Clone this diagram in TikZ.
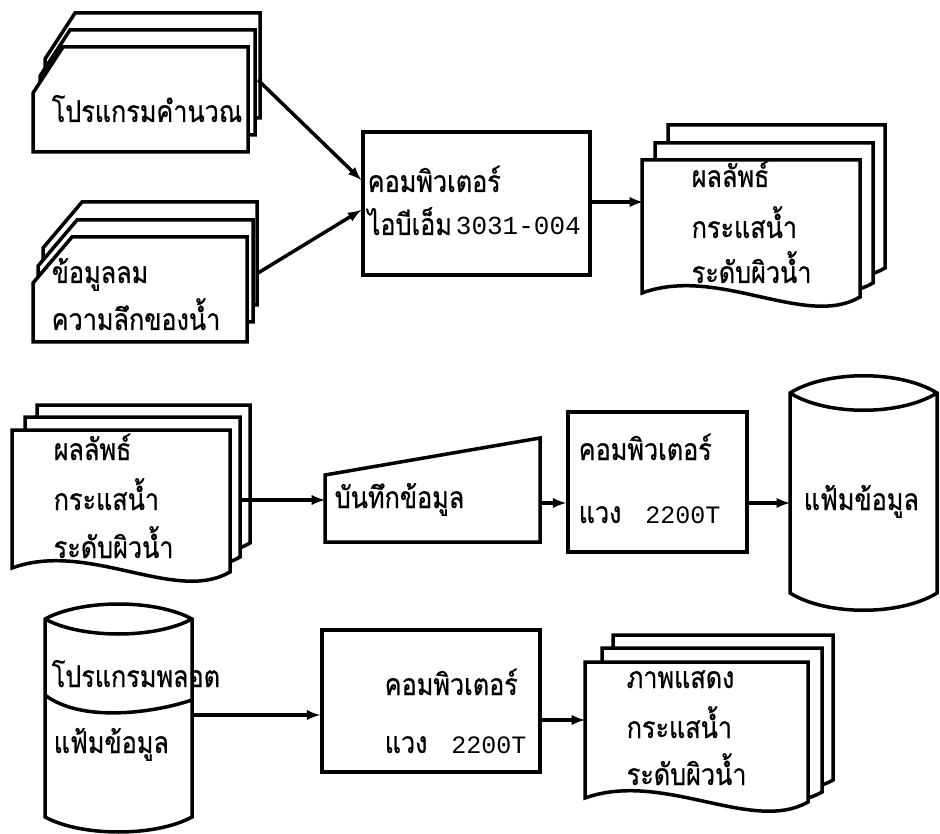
\documentclass[tikz,border=0pt]{standalone}
\usepackage{fontspec}
\newfontfamily\thaifont[Script=Thai,FakeStretch=0.84,FakeBold=0.6]{Loma}
\newfontfamily\numfont{Liberation Mono}

% punched card: x, y (top), width, height, cut
\newcommand{\cardpage}[5]{%
  \filldraw[fill=white] (#1+#5,#2) -- (#1+#3,#2) -- (#1+#3,#2+#4) -- (#1,#2+#4) -- (#1,#2+46) -- cycle;}
% printed page: x, y (top), width, height
\newcommand{\docpage}[4]{%
  \filldraw[fill=white] (#1,#2) -- (#1+#3,#2) -- (#1+#3,#2+#4+4)
    .. controls (#1+0.75*#3,#2+#4+36) and (#1+0.35*#3,#2+#4-28) .. (#1,#2+#4) -- cycle;}
% disk file: x, y (top corner), width, height, bulge
\newcommand{\drumshape}[5]{%
  \filldraw[fill=white] (#1,#2) .. controls (#1+0.25*#3,#2-#5) and (#1+0.75*#3,#2-#5) .. (#1+#3,#2)
    -- (#1+#3,#2+#4) .. controls (#1+0.75*#3,#2+#4+#5) and (#1+0.25*#3,#2+#4+#5) .. (#1,#2+#4) -- cycle;
  \draw (#1,#2) .. controls (#1+0.25*#3,#2+#5) and (#1+0.75*#3,#2+#5) .. (#1+#3,#2);}

\begin{document}
\begin{tikzpicture}[x=1pt,y=-1pt,>=latex,line width=3.5pt,
    cpubox/.style={draw,rectangle,inner sep=0pt},
    txt/.style={anchor=base west,inner sep=0pt,font=\thaifont\fontsize{30}{32}\selectfont}]

    \useasboundingbox (0,0) rectangle (940,834);

    % Cards of the program and of the data
    \cardpage{45}{13}{215}{105}{30}
    \cardpage{40}{30}{215}{105}{30}
    \cardpage{33}{47}{215}{105}{30}
    \node[txt] (calc) at (50,122) {โปรแกรมคำนวณ};
    \cardpage{43}{202}{214}{103}{39}
    \cardpage{38}{220}{215}{102}{39}
    \cardpage{33}{237}{214}{105}{39}
    \node[txt] (wind) at (50,283) {ข้อมูลลม};
    \node[txt] (depth) at (50,330) {ความลึกของน้ำ};

    % First computer
    \node[cpubox,minimum width=227pt,minimum height=143pt] (cpu1) at (476.5,203.5) {};
    \node[txt] (cpu1a) at (366,192) {คอมพิวเตอร์};
    \node[txt] (cpu1b) at (366,235) {ไอบีเอ็ม\hspace{4pt}{\numfont\fontsize{26}{28}\selectfont 3031-004}};

    % Printed results
    \docpage{668}{125}{217}{139}
    \docpage{655}{143}{218}{136}
    \docpage{642}{160}{218}{133}
    \node[txt] (res1a) at (690,187) {ผลลัพธ์};
    \node[txt] (res1b) at (690,238) {กระแสน้ำ};
    \node[txt] (res1c) at (690,283) {ระดับผิวน้ำ};

    \coordinate (calcout) at (258,80);
    \coordinate (dataout) at (258,273);
    \coordinate (res1in) at (643,202);
    \draw[->] (calcout) -- ([yshift=23.5pt]cpu1.west);
    \draw[->] (dataout) -- ([yshift=-6.5pt]cpu1.west);
    \draw[->] ([yshift=1.5pt]cpu1.east) -- (res1in);

    % Second row
    \docpage{37}{405}{213}{134}
    \docpage{25}{417}{215}{136}
    \docpage{12}{430}{218}{138}
    \node[txt] (res2a) at (52,460) {ผลลัพธ์};
    \node[txt] (res2b) at (52,510) {กระแสน้ำ};
    \node[txt] (res2c) at (52,558) {ระดับผิวน้ำ};

    % Key in
    \filldraw[fill=white] (325,475) -- (540,438) -- (540,542) -- (325,542) -- cycle;
    \node[txt] (keyin) at (333,508) {บันทึกข้อมูล};

    \node[cpubox,minimum width=179pt,minimum height=140pt] (cpu2) at (657.5,482) {};
    \node[txt] (cpu2a) at (577,460) {คอมพิวเตอร์};
    \node[txt] (cpu2b) at (577,523) {แวง\hspace{24pt}{\numfont\fontsize{25}{27}\selectfont 2200T}};

    \drumshape{790}{393}{147}{200}{23}
    \node[txt] (file1) at (802,510) {แฟ้มข้อมูล};

    \coordinate (res2out) at (240,500);
    \coordinate (key1) at (325,500);
    \coordinate (key2) at (540,503);
    \coordinate (file1in) at (790,503);
    \draw[->] (res2out) -- (key1);
    \draw[->] (key2) -- ([yshift=-21pt]cpu2.west);
    \draw[->] ([yshift=-21pt]cpu2.east) -- (file1in);

    % Third row
    \drumshape{45}{619}{147}{198}{20}
    \draw (45,695) .. controls (80,722) and (150,714) .. (192,700);
    \node[txt] (plot) at (50,687) {โปรแกรมพลอต};
    \node[txt] (file2) at (52,753) {แฟ้มข้อมูล};

    \node[cpubox,minimum width=218pt,minimum height=142pt] (cpu3) at (431,701) {};
    \node[txt] (cpu3a) at (383,695) {คอมพิวเตอร์};
    \node[txt] (cpu3b) at (383,753) {แวง\hspace{24pt}{\numfont\fontsize{25}{27}\selectfont 2200T}};

    \docpage{613}{635}{220}{141}
    \docpage{602}{648}{220}{140}
    \docpage{585}{662}{223}{136}
    \node[txt] (pic1) at (625,688) {ภาพแสดง};
    \node[txt] (pic2) at (625,738) {กระแสน้ำ};
    \node[txt] (pic3) at (625,785) {ระดับผิวน้ำ};

    \coordinate (plotout) at (192,715);
    \coordinate (res3in) at (585,720);
    \draw[->] (plotout) -- ([yshift=-14pt]cpu3.west);
    \draw[->] ([yshift=-19pt]cpu3.east) -- (res3in);

\end{tikzpicture}
\end{document}
